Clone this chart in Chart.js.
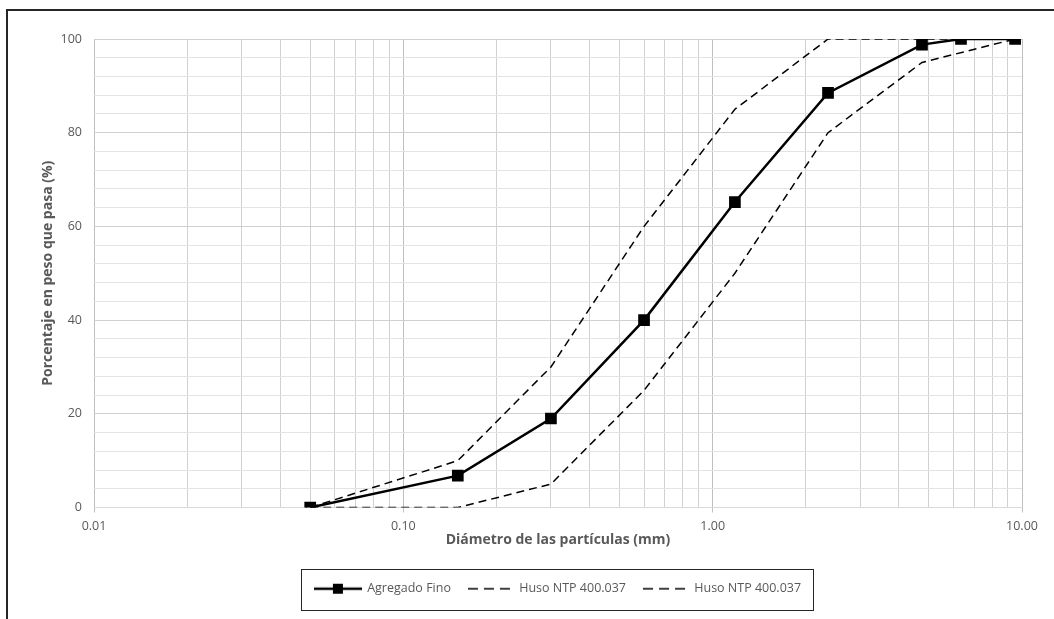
<!DOCTYPE html>
<html>
<head>
<meta charset="utf-8">
<title>Curva granulométrica</title>
<script src="https://cdn.jsdelivr.net/npm/chart.js@4.4.0/dist/chart.umd.min.js"></script>
<style>
    html, body { margin: 0; padding: 0; background: #fff; }
    #wrap { position: relative; width: 1054px; height: 619px; overflow: hidden; }
    #frame { position: absolute; left: 6px; top: 9px; width: 1200px; height: 800px;
             border-top: 2px solid #262626; border-left: 2px solid #262626; }
    canvas { position: absolute; left: 0; top: 0; }
</style>
</head>
<body>
<div id="wrap">
    <div id="frame"></div>
    <canvas id="grafico" width="1054" height="619"></canvas>
</div>
<script>
// datos de la curva granulometrica
const aberturas = [0.05, 0.15, 0.30, 0.60, 1.18, 2.36, 4.75, 6.35, 9.50];
const pasaAgregado = [0, 6.8, 19.0, 40.0, 65.2, 88.5, 98.8, 100, 100];

// huso NTP 400.037 (limites)
const aberturasHuso = [0.05, 0.15, 0.30, 0.60, 1.18, 2.36, 4.75, 9.50];
const husoSuperior = [0, 10, 30, 60, 85, 100, 100, 100];
const husoInferior = [0, 0, 5, 25, 50, 80, 95, 100];

const nombres = ['Agregado Fino', 'Huso NTP 400.037', 'Huso NTP 400.037'];
const marcasY = [0, 20, 40, 60, 80, 100];
const decadasX = [0.01, 0.1, 1, 10];

function puntos(xs, ys) {
    return xs.map((x, i) => ({ x: x, y: ys[i] }));
}

function esDecada(v) {
    const l = Math.log10(v);
    return Math.abs(l - Math.round(l)) < 1e-9;
}

// iconos de la leyenda
function iconoLinea(ancho, conMarca, guion) {
    const c = document.createElement('canvas');
    c.width = ancho;
    c.height = 12;
    const g = c.getContext('2d');
    g.strokeStyle = '#000';
    g.lineWidth = conMarca ? 2.5 : 1.5;
    g.setLineDash(guion);
    g.beginPath();
    g.moveTo(0, 6);
    g.lineTo(ancho, 6);
    g.stroke();
    if (conMarca) {
        g.fillStyle = '#000';
        g.fillRect(ancho / 2 - 5, 1, 10, 10);
    }
    return c;
}
const iconos = [iconoLinea(48, true, []), iconoLinea(44, false, [10, 6]), iconoLinea(44, false, [10, 6])];

const cajaLeyenda = {
    id: 'cajaLeyenda',
    afterDraw(chart) {
        const cajas = chart.legend.legendHitBoxes;
        if (!cajas || !cajas.length) return;
        let izq = Infinity, der = -Infinity, arr = Infinity, abj = -Infinity;
        cajas.forEach(b => {
            izq = Math.min(izq, b.left);
            der = Math.max(der, b.left + b.width);
            arr = Math.min(arr, b.top);
            abj = Math.max(abj, b.top + b.height);
        });
        const ctx = chart.ctx;
        ctx.save();
        ctx.strokeStyle = '#262626';
        ctx.lineWidth = 1;
        ctx.strokeRect(Math.round(izq - 14) + 0.5, Math.round(arr - 14) + 0.5,
            Math.round(der - izq + 26), Math.round(abj - arr + 28));
        ctx.restore();
    }
};

const gris = '#595959';
const fuente = "'Open Sans', 'Noto Sans', sans-serif";

new Chart(document.getElementById('grafico'), {
    type: 'line',
    data: {
        datasets: [{
            label: nombres[0],
            data: puntos(aberturas, pasaAgregado),
            borderColor: '#000',
            backgroundColor: '#000',
            borderWidth: 2.5,
            pointStyle: 'rect',
            pointRadius: 6.5,
            pointHoverRadius: 6.5,
            order: 0
        }, {
            label: nombres[1],
            data: puntos(aberturasHuso, husoSuperior),
            borderColor: '#000',
            borderWidth: 1.5,
            borderDash: [8, 5],
            pointRadius: 0,
            order: 1
        }, {
            label: nombres[2],
            data: puntos(aberturasHuso, husoInferior),
            borderColor: '#000',
            borderWidth: 1.5,
            borderDash: [8, 5],
            pointRadius: 0,
            order: 2
        }]
    },
    options: {
        responsive: false,
        animation: false,
        events: [],
        layout: { padding: { left: 36, right: 32, top: 39, bottom: 14 } },
        scales: {
            x: {
                type: 'logarithmic',
                min: 0.01,
                max: 10,
                afterBuildTicks: s => {
                    const t = [];
                    for (let d = 0; d < 3; d++) {
                        for (let m = 1; m <= 9; m++) {
                            t.push({ value: decadasX[d] * m, major: m === 1 });
                        }
                    }
                    t.push({ value: 10, major: true });
                    s.ticks = t;
                },
                afterFit: s => { s.height = 59; },
                ticks: {
                    autoSkip: false,
                    maxRotation: 0,
                    padding: 6,
                    color: gris,
                    font: { family: fuente, size: 12.5 },
                    callback: v => esDecada(v) ? Number(v).toFixed(2) : ''
                },
                grid: {
                    color: c => (c.tick && esDecada(c.tick.value)) ? '#bfbfbf' : '#d0d0d0',
                    tickColor: c => (c.tick && esDecada(c.tick.value)) ? '#bfbfbf' : 'rgba(0,0,0,0)',
                    tickLength: 5,
                    lineWidth: 1
                },
                border: { color: '#d9d9d9' },
                title: {
                    display: true,
                    text: 'Diámetro de las partículas (mm)',
                    color: gris,
                    font: { family: fuente, size: 14, weight: 'bold' },
                    padding: { top: 4, bottom: 18 }
                }
            },
            y: {
                min: 0,
                max: 100,
                afterFit: s => { s.width = 58; },
                ticks: {
                    stepSize: 4,
                    padding: 12,
                    color: gris,
                    font: { family: fuente, size: 12.5 },
                    callback: v => marcasY.includes(v) ? v : ''
                },
                grid: {
                    drawTicks: false,
                    color: c => (c.tick && marcasY.includes(c.tick.value)) ? '#d0d0d0' : '#e3e3e3',
                    lineWidth: 1
                },
                border: { display: false },
                title: {
                    display: true,
                    text: 'Porcentaje en peso que pasa (%)',
                    color: gris,
                    font: { family: fuente, size: 14, weight: 'bold' },
                    padding: { top: 4, bottom: 4 }
                }
            }
        },
        plugins: {
            tooltip: { enabled: false },
            legend: {
                position: 'bottom',
                fullSize: false,
                labels: {
                    usePointStyle: true,
                    pointStyleWidth: 46,
                    boxHeight: 12,
                    padding: 16,
                    color: gris,
                    font: { family: fuente, size: 12.5 },
                    generateLabels: chart => chart.data.datasets.map((ds, i) => ({
                        text: ds.label,
                        pointStyle: iconos[i],
                        fillStyle: 'rgba(0,0,0,0)',
                        strokeStyle: 'rgba(0,0,0,0)',
                        lineWidth: 0,
                        fontColor: gris,
                        hidden: false,
                        datasetIndex: i
                    }))
                }
            }
        }
    },
    plugins: [cajaLeyenda]
});
</script>
</body>
</html>
